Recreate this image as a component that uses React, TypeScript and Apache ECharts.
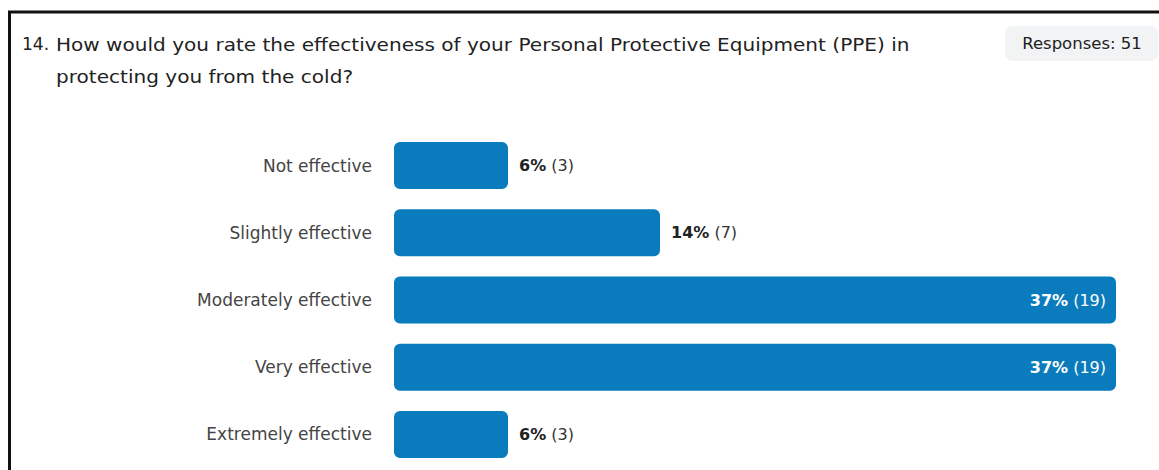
import React, { useEffect, useRef } from "react";
import * as echarts from "echarts";

const categories = [
  "Not effective",
  "Slightly effective",
  "Moderately effective",
  "Very effective",
  "Extremely effective",
];
const counts = [3, 7, 19, 19, 3];
const percents = [6, 14, 37, 37, 6];
const insideLabel = [false, false, true, true, false];
const titleNumber = "14.";
const titleLines = [
  "How would you rate the effectiveness of your Personal Protective Equipment (PPE) in",
  "protecting you from the cold?",
];
const responsesText = "Responses: 51";

const FONT = "'DejaVu Sans', sans-serif";
const BAR = "#0a7bbd";
const TITLE_SCALE = 1.115;

export default function App() {
  const ref = useRef<HTMLDivElement>(null);
  useEffect(() => {
    if (!ref.current) return;
    const chart = echarts.init(ref.current, null, { renderer: "svg" });
    const data = counts.map((c, i) => ({
      value: c,
      label: insideLabel[i]
        ? {
            position: "insideRight",
            distance: 10,
            rich: {
              p: { color: "#fff", fontWeight: "bold", fontSize: 16, fontFamily: FONT },
              n: { color: "#fff", fontSize: 16, fontFamily: FONT },
            },
          }
        : {
            position: "right",
            distance: 11,
            rich: {
              p: { color: "#222", fontWeight: "bold", fontSize: 16, fontFamily: FONT },
              n: { color: "#333", fontSize: 16, fontFamily: FONT },
            },
          },
    }));
    const titleStyle = { fontSize: 18, fill: "#222", fontFamily: FONT, verticalAlign: "middle" };
    chart.setOption({
      animation: false,
      backgroundColor: "#fff",
      grid: { left: 394, width: 722, top: 132, height: 336 },
      xAxis: {
        type: "value",
        min: 0,
        max: 19,
        show: false,
        splitLine: { show: false },
      },
      yAxis: {
        type: "category",
        data: categories,
        inverse: true,
        axisLine: { show: false },
        axisTick: { show: false },
        axisLabel: {
          margin: 22,
          fontSize: 17,
          color: "#444",
          fontFamily: FONT,
        },
      },
      series: [
        {
          type: "bar",
          data,
          barWidth: 47,
          itemStyle: { color: BAR, borderRadius: 6 },
          label: {
            show: true,
            formatter: (p: any) => `{p|${percents[p.dataIndex]}%}{n| (${counts[p.dataIndex]})}`,
          },
        },
      ],
      graphic: [
        { type: "line", shape: { x1: 8, y1: 12, x2: 1159, y2: 12 }, style: { stroke: "#111", lineWidth: 3 } },
        { type: "line", shape: { x1: 9.5, y1: 11, x2: 9.5, y2: 470 }, style: { stroke: "#111", lineWidth: 3 } },
        {
          type: "text",
          x: 22,
          y: 44,
          scaleX: 0.95,
          style: { ...titleStyle, text: titleNumber },
        },
        {
          type: "text",
          x: 56,
          y: 44,
          scaleX: TITLE_SCALE,
          style: { ...titleStyle, text: titleLines[0] },
        },
        {
          type: "text",
          x: 56,
          y: 76,
          scaleX: TITLE_SCALE,
          style: { ...titleStyle, text: titleLines[1] },
        },
        {
          type: "rect",
          shape: { x: 1005, y: 26, width: 153, height: 35, r: 7 },
          style: { fill: "#f1f3f5" },
        },
        {
          type: "text",
          x: 1082,
          y: 43.5,
          style: {
            text: responsesText,
            fontSize: 16.5,
            fill: "#222",
            fontFamily: FONT,
            align: "center",
            verticalAlign: "middle",
          },
        },
      ],
    });
    return () => chart.dispose();
  }, []);
  return (
    <div
      ref={ref}
      style={{ position: "fixed", left: 0, top: 0, width: 1159, height: 470 }}
    />
  );
}
